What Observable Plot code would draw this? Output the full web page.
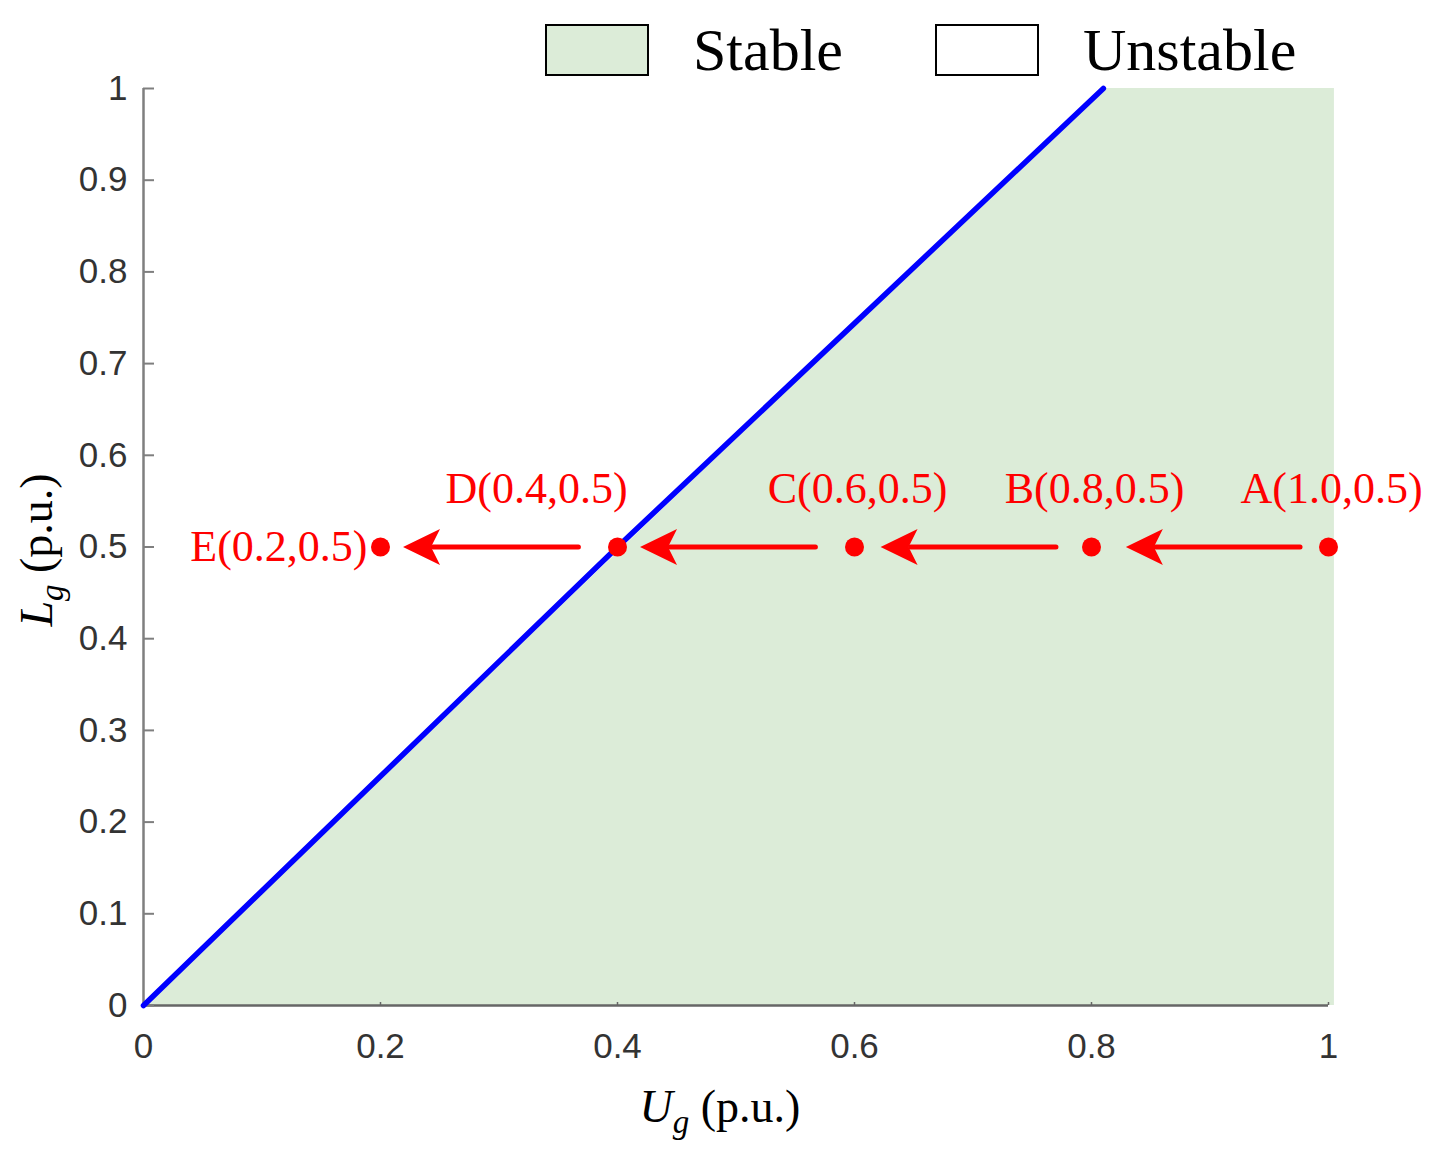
<!DOCTYPE html>
<html>
<head>
<meta charset="utf-8">
<script src="https://cdn.jsdelivr.net/npm/d3@7"></script>
<script src="https://cdn.jsdelivr.net/npm/@observablehq/plot@0.6"></script>
<style>
  body { margin: 0; background: #fff; }
  #wrap { width: 1437px; height: 1155px; }
</style>
</head>
<body>
<div id="wrap"></div>
<script>
// ---- data ----
const boundaryUg = [0, 0.4, 0.81];
const boundaryLg = [0, 0.5, 1];
const stableUg = [0, 0.81, 1.005];
const stableLg = [0, 1, 1];
const pointNames = ["A", "B", "C", "D", "E"];
const pointUg = [1.0, 0.8, 0.6, 0.4, 0.2];
const pointLg = [0.5, 0.5, 0.5, 0.5, 0.5];
const arrowStartUg = [0.976, 0.770, 0.567, 0.367];
const arrowTipUg = [0.829, 0.622, 0.419, 0.219];
const arrowLg = [0.5, 0.5, 0.5, 0.5];
const xTicks = [0, 0.2, 0.4, 0.6, 0.8, 1];
const yTicks = [0, 0.1, 0.2, 0.3, 0.4, 0.5, 0.6, 0.7, 0.8, 0.9, 1];
const legendLabels = ["Stable", "Unstable"];

// ---- tables ----
const boundary = boundaryUg.map((u, i) => ({u, l: boundaryLg[i]}));
const stable = stableUg.map((u, i) => ({u, l: stableLg[i]}));
const points = pointNames.map((n, i) => ({
  name: n, u: pointUg[i], l: pointLg[i],
  label: `${n}(${pointUg[i].toFixed(1)},${pointLg[i].toFixed(1)})`
}));
const arrows = arrowStartUg.map((s, i) => ({s, t: arrowTipUg[i], l: arrowLg[i]}));

const W = 1437, H = 1155, mL = 143, mR = 109, mT = 88, mB = 150;
const pw = W - mL - mR, ph = H - mT - mB;
const headLen = 30 / pw; // shaft tucks under the head

const arrowHead = {
  draw(ctx) {
    ctx.moveTo(0, 0);
    ctx.lineTo(37, -18);
    ctx.lineTo(28, 0);
    ctx.lineTo(37, 18);
    ctx.closePath();
  }
};

const RED = "#ff0000";
const SERIF = "'Liberation Serif', 'Times New Roman', serif";

const plot = Plot.plot({
  width: W, height: H,
  marginLeft: mL, marginRight: mR, marginTop: mT, marginBottom: mB,
  x: {domain: [0, 1]},
  y: {domain: [0, 1]},
  style: {fontFamily: "'Liberation Sans', Arial, sans-serif", background: "#fff"},
  marks: [
    Plot.areaY(stable, {x: "u", y1: 0, y2: "l", fill: "#dcecd8"}),
    Plot.ruleX([0], {stroke: "#7f7f7f", strokeWidth: 2.5}),
    Plot.ruleY([0], {stroke: "#666", strokeWidth: 2.5}),
    Plot.tickY(yTicks, {y: d => d, stroke: "#7f7f7f", strokeWidth: 2, insetRight: pw - 11}),
    Plot.tickX(xTicks, {x: d => d, stroke: "#666", strokeWidth: 1.5, insetTop: ph - 3}),
    Plot.axisY({ticks: yTicks, tickSize: 0, tickPadding: 16, fontSize: 35, color: "#333", tickFormat: d => String(d), label: null}),
    Plot.axisX({ticks: xTicks, tickSize: 0, tickPadding: 28, fontSize: 35, color: "#333", tickFormat: d => String(d), label: null}),
    Plot.line(boundary, {x: "u", y: "l", stroke: "#0000ff", strokeWidth: 5.5}),
    Plot.link(arrows, {x1: "s", x2: d => d.t + headLen, y1: "l", y2: "l", stroke: RED, strokeWidth: 5, strokeLinecap: "round"}),
    Plot.dot(arrows, {x: "t", y: "l", symbol: arrowHead, fill: RED, stroke: "none"}),
    Plot.dot(points, {x: "u", y: "l", r: 9.5, fill: RED, stroke: "none"}),
    Plot.text(points.filter(p => "ABC".includes(p.name)), {x: "u", y: "l", text: "label", dy: -58, dx: 3, fontSize: 44, fontFamily: SERIF, fill: RED}),
    Plot.text(points.filter(p => p.name === "D"), {x: "u", y: "l", text: "label", dy: -58, dx: -81, fontSize: 44, fontFamily: SERIF, fill: RED}),
    Plot.text(points.filter(p => p.name === "E"), {x: "u", y: "l", text: "label", dx: -13, textAnchor: "end", fontSize: 44, fontFamily: SERIF, fill: RED})
  ]
});

const svg = d3.select(plot);

// axis titles
const xt = svg.append("text")
  .attr("x", 720).attr("y", 1122)
  .attr("text-anchor", "middle")
  .attr("font-family", SERIF).attr("font-size", 46).attr("fill", "#000");
xt.append("tspan").attr("font-style", "italic").text("U");
xt.append("tspan").attr("font-style", "italic").attr("font-size", 33).attr("dy", 11).text("g");
xt.append("tspan").attr("dy", -11).text(" (p.u.)");

const yt = svg.append("text")
  .attr("transform", "translate(52,550) rotate(-90)")
  .attr("text-anchor", "middle")
  .attr("font-family", SERIF).attr("font-size", 46).attr("fill", "#000");
yt.append("tspan").attr("font-style", "italic").text("L");
yt.append("tspan").attr("font-style", "italic").attr("font-size", 33).attr("dy", 11).text("g");
yt.append("tspan").attr("dy", -11).text(" (p.u.)");

// legend
const lg = svg.append("g");
const legendFill = ["#dcecd8", "#ffffff"];
const legendBoxX = [546, 936];
const legendTextX = [693, 1083];
legendLabels.forEach((lab, i) => {
  lg.append("rect").attr("x", legendBoxX[i]).attr("y", 25).attr("width", 102).attr("height", 50)
    .attr("fill", legendFill[i]).attr("stroke", "#000").attr("stroke-width", 2);
  lg.append("text").attr("x", legendTextX[i]).attr("y", 70)
    .attr("text-anchor", "start")
    .attr("font-family", SERIF).attr("font-size", 60).attr("fill", "#000").text(lab);
});

document.getElementById("wrap").appendChild(plot);
</script>
</body>
</html>
